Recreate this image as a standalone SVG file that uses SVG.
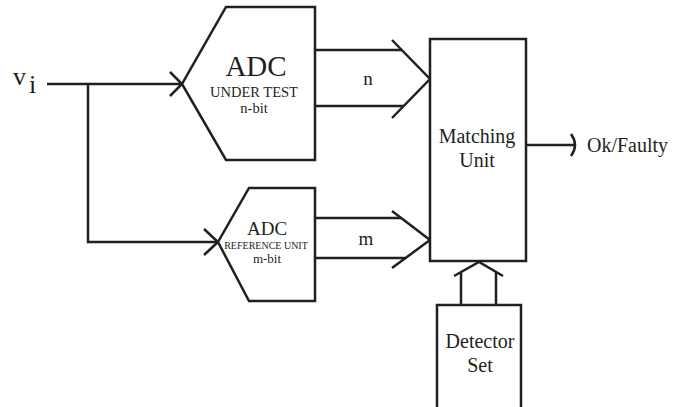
<svg xmlns="http://www.w3.org/2000/svg" width="698" height="407" viewBox="0 0 698 407" font-family="'Liberation Serif', 'DejaVu Serif', serif">
<style>
.s{fill:none;stroke:#231f20;stroke-width:2.5;stroke-linejoin:miter;stroke-linecap:butt}
.b{fill:#fff;stroke:#231f20;stroke-width:2.5}
.c{text-anchor:middle;fill:#231f20}
.l{text-anchor:start;fill:#231f20}
</style>
<rect width="698" height="407" fill="#fff"/>
<g id="connectors">
<path class="s" d="M47,84 H182"/>
<path class="s" d="M170,72 L182,84 L170,96"/>
<path class="s" d="M88,84 V242 H218"/>
<path class="s" d="M204,229 L218,242 L204,255"/>
<path class="s" d="M315,50 H402 M315,106 H404"/>
<path class="s" d="M392,40 L430,79 L392,118"/>
<path class="s" d="M315,218 H401 M315,258 H406"/>
<path class="s" d="M392,211 L430,240 L392,268"/>
<path class="s" d="M461,305 V272 M496,305 V272"/>
<path class="s" d="M454,276 L479,262 L503,276"/>
<path class="s" d="M526,145 H576"/>
<path class="s" d="M571,134 Q579,145 571,156"/>
<text class="c" x="368" y="85" font-size="19">n</text>
<text class="c" x="366" y="245" font-size="19">m</text>
</g>
<g id="vi">
<text class="l" x="13" y="85" font-size="26">v</text>
<text class="l" x="29" y="93" font-size="26">i</text>
</g>
<g id="adc-under-test">
<polygon class="b" points="226,7 315,7 315,160 226,160 182,84"/>
<text class="c" x="256" y="76" font-size="29">ADC</text>
<text class="c" x="254" y="97" font-size="14.5">UNDER TEST</text>
<text class="c" x="254" y="113" font-size="14.5">n-bit</text>
</g>
<g id="adc-reference">
<polygon class="b" points="249,188 315,188 315,301 249,301 218,242"/>
<text class="c" x="267" y="235" font-size="19">ADC</text>
<text class="c" x="266" y="249" font-size="10">REFERENCE UNIT</text>
<text class="c" x="267" y="263" font-size="13">m-bit</text>
</g>
<g id="matching-unit">
<rect class="b" x="430" y="39" width="96" height="222"/>
<text class="c" x="477" y="143" font-size="20">Matching</text>
<text class="c" x="477" y="167" font-size="20">Unit</text>
</g>
<g id="detector-set">
<rect class="b" x="437" y="305" width="84" height="110"/>
<text class="c" x="480" y="348" font-size="20">Detector</text>
<text class="c" x="480" y="372" font-size="20">Set</text>
</g>
<g id="output">
<text class="l" x="587" y="152" font-size="20">Ok/Faulty</text>
</g>
</svg>
